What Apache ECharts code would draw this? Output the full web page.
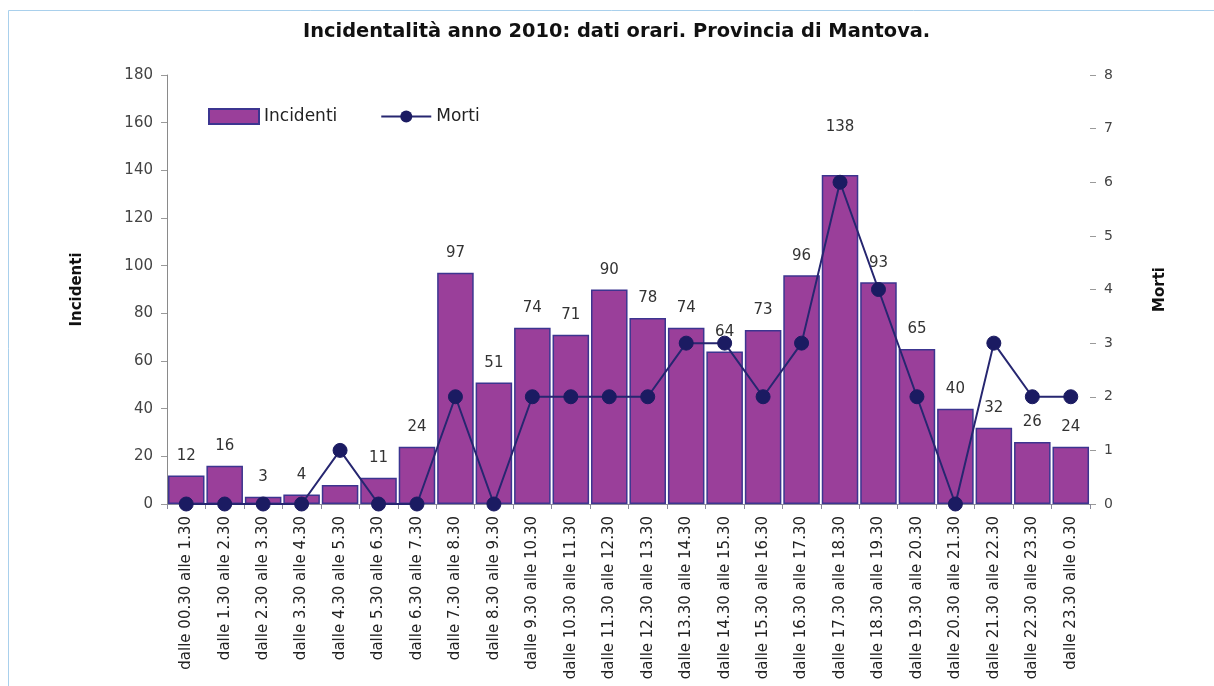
<!DOCTYPE html>
<html>
<head>
<meta charset="utf-8">
<title>Incidentalità anno 2010</title>
<script src="https://cdn.jsdelivr.net/npm/echarts@6/dist/echarts.min.js"></script>
<style>
  html, body { margin: 0; padding: 0; background: #ffffff; }
  #chart { width: 1214px; height: 686px; }
</style>
</head>
<body>
<div id="chart"></div>
<script>
// Fasce orarie
const categories = [
  'dalle 00.30 alle 1.30', 'dalle 1.30 alle 2.30', 'dalle 2.30 alle 3.30',
  'dalle 3.30 alle 4.30', 'dalle 4.30 alle 5.30', 'dalle 5.30 alle 6.30',
  'dalle 6.30 alle 7.30', 'dalle 7.30 alle 8.30', 'dalle 8.30 alle 9.30',
  'dalle 9.30 alle 10.30', 'dalle 10.30 alle 11.30', 'dalle 11.30 alle 12.30',
  'dalle 12.30 alle 13.30', 'dalle 13.30 alle 14.30', 'dalle 14.30 alle 15.30',
  'dalle 15.30 alle 16.30', 'dalle 16.30 alle 17.30', 'dalle 17.30 alle 18.30',
  'dalle 18.30 alle 19.30', 'dalle 19.30 alle 20.30', 'dalle 20.30 alle 21.30',
  'dalle 21.30 alle 22.30', 'dalle 22.30 alle 23.30', 'dalle 23.30 alle 0.30'
];

// Numero di incidenti per fascia oraria
const incidenti = [12, 16, 3, 4, 8, 11, 24, 97, 51, 74, 71, 90, 78, 74, 64, 73, 96, 138, 93, 65, 40, 32, 26, 24];

// Numero di morti per fascia oraria
const morti = [0, 0, 0, 0, 1, 0, 0, 2, 0, 2, 2, 2, 2, 3, 3, 2, 3, 6, 4, 2, 0, 3, 2, 2];

// Scale degli assi
const incidentiAxis = { min: 0, max: 180, interval: 20 };
const mortiAxis = { min: 0, max: 8, interval: 1 };

const FONT = 'DejaVu Sans';
const chart = echarts.init(document.getElementById('chart'), null, { renderer: 'canvas' });

const barData = incidenti.map(function (v, i) {
  const item = { value: v };
  if (i === 4) item.label = { show: false };
  if (i === 17) item.label = { distance: 40 };
  return item;
});

chart.setOption({
  backgroundColor: '#ffffff',
  animation: false,
  graphic: [{
    type: 'rect',
    shape: { x: 8.5, y: 10.5, width: 1220, height: 700 },
    style: { fill: 'none', stroke: '#a9d0ec', lineWidth: 1 },
    silent: true,
    z: -1
  }],
  title: {
    text: 'Incidentalità anno 2010: dati orari. Provincia di Mantova.',
    left: 298,
    top: 17,
    textStyle: { fontFamily: FONT, fontSize: 19.4, fontWeight: 'bold', color: '#111' }
  },
  legend: {
    left: 208,
    top: 108,
    padding: 0,
    itemWidth: 50,
    itemHeight: 15,
    itemGap: 43,
    textStyle: { fontFamily: FONT, fontSize: 17, color: '#222' },
    data: [{ name: 'Incidenti', icon: 'rect' }, { name: 'Morti' }]
  },
  grid: { left: 167, right: 124, top: 75, bottom: 182 },
  xAxis: {
    type: 'category',
    data: categories,
    axisLine: { lineStyle: { color: '#8a8a9a', width: 1 } },
    axisTick: { show: true, length: 5, lineStyle: { color: '#8a8a9a' } },
    axisLabel: {
      rotate: 90,
      interval: 0,
      margin: 12,
      fontFamily: FONT,
      fontSize: 15,
      color: '#222'
    }
  },
  yAxis: [{
    type: 'value',
    name: 'Incidenti',
    nameLocation: 'middle',
    nameRotate: 90,
    nameGap: 82,
    nameTextStyle: { fontFamily: FONT, fontSize: 15, fontWeight: 'bold', color: '#111' },
    min: incidentiAxis.min,
    max: incidentiAxis.max,
    interval: incidentiAxis.interval,
    splitLine: { show: false },
    axisLine: { show: true, lineStyle: { color: '#8a8a8a' } },
    axisTick: { show: true, length: 6, lineStyle: { color: '#9a9a9a' } },
    axisLabel: { margin: 14, fontFamily: FONT, fontSize: 15, color: '#444' }
  }, {
    type: 'value',
    name: 'Morti',
    nameLocation: 'middle',
    nameRotate: 90,
    nameGap: 63,
    nameTextStyle: { fontFamily: FONT, fontSize: 15, fontWeight: 'bold', color: '#111' },
    min: mortiAxis.min,
    max: mortiAxis.max,
    interval: mortiAxis.interval,
    splitLine: { show: false },
    axisLine: { show: false },
    axisTick: { show: true, length: 6, lineStyle: { color: '#9a9a9a' } },
    axisLabel: { margin: 14, fontFamily: FONT, fontSize: 14, color: '#444' }
  }],
  series: [{
    name: 'Incidenti',
    type: 'bar',
    data: barData,
    barCategoryGap: '5%',
    itemStyle: { color: '#9a3f9a', borderColor: '#3c3590', borderWidth: 1.5 },
    label: {
      show: true,
      position: 'top',
      distance: 12,
      fontFamily: FONT,
      fontSize: 15,
      color: '#333'
    },
    z: 2
  }, {
    name: 'Morti',
    type: 'line',
    yAxisIndex: 1,
    data: morti,
    symbol: 'circle',
    symbolSize: 14,
    lineStyle: { color: '#262670', width: 2 },
    itemStyle: { color: '#1b1b62', borderColor: '#1b1b62' },
    z: 3
  }]
});
</script>
</body>
</html>
